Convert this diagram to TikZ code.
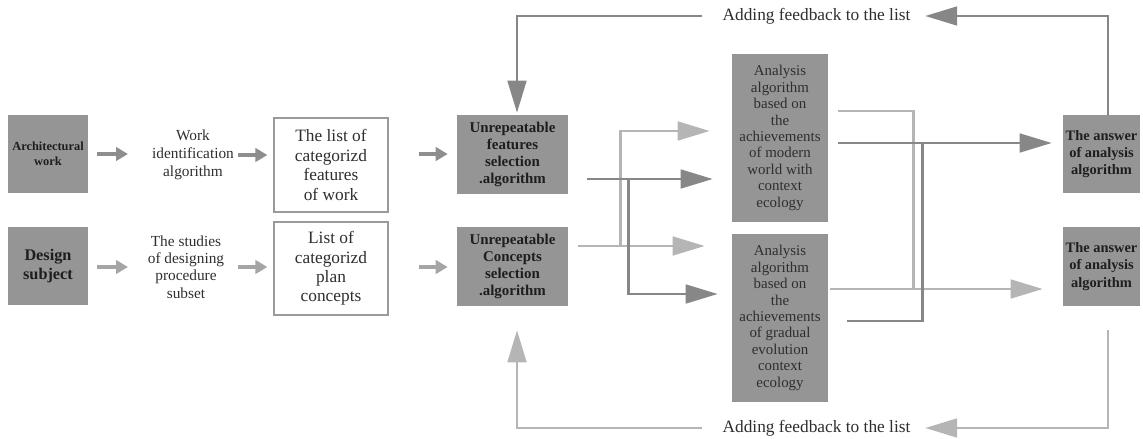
\documentclass[tikz,border=0pt]{standalone}
\usepackage{fontspec}
\setmainfont{Liberation Serif}
\usetikzlibrary{arrows.meta}
\definecolor{boxgray}{HTML}{959595}
\definecolor{darkln}{HTML}{878787}
\definecolor{lightln}{HTML}{B5B5B5}
\definecolor{smalldk}{HTML}{8E8E8E}
\definecolor{smalllt}{HTML}{A5A5A5}
\definecolor{txt}{HTML}{2E2E2E}
\definecolor{boxtxt}{HTML}{1E1E1E}
\definecolor{wborder}{HTML}{9A9A9A}
\begin{document}
\begin{tikzpicture}[x=0.75pt,y=-0.75pt,
  graybox/.style={fill=boxgray, draw=none, inner sep=0pt, align=center, text=boxtxt},
  whitebox/.style={draw=wborder, line width=0.9pt, fill=white, inner sep=0pt, align=center, text=txt, minimum width=85.5pt, font=\fontsize{13}{14.6}\selectfont},
  plaintext/.style={inner sep=0pt, align=center, text=txt},
  bigarrow/.style={line width=2pt, -{Triangle[length=24pt,width=14pt]}},
  conn/.style={line width=2pt},
  smallarrow/.style={line width=3.2pt, -{Triangle[length=9pt,width=10pt]}},
]
\useasboundingbox (0,0) rectangle (1143,439);

% left column
\node[graybox, minimum width=60pt, minimum height=58.5pt, font=\fontsize{9.3}{11.25}\selectfont\bfseries] (arch) at (48,154) {Architectural\\work};
\node[graybox, minimum width=60pt, minimum height=58.5pt, font=\fontsize{12.2}{14.25}\selectfont\bfseries] (design) at (48,266) {Design\\subject};

\node[plaintext, font=\fontsize{11.5}{13.4}\selectfont] (workid) at (193,155) {Work\\identification\\algorithm};
\node[plaintext, font=\fontsize{11.5}{12.9}\selectfont] (studies) at (186,267) {The studies\\of designing\\procedure\\subset};

\node[whitebox, minimum height=70.5pt] (list1) at (331,165) {The list of\\categorizd\\features\\of work};
\node[whitebox, minimum height=69.75pt] (list2) at (331,268.5) {List of\\categorizd\\plan\\concepts};

\node[graybox, minimum width=83.25pt, minimum height=59.25pt, font=\fontsize{11.2}{12.75}\selectfont\bfseries] (uf) at (512.5,154.5) {Unrepeatable\\features\\selection\\.algorithm};
\node[graybox, minimum width=83.25pt, minimum height=59.25pt, font=\fontsize{11.2}{12.75}\selectfont\bfseries] (uc) at (512.5,266.5) {Unrepeatable\\Concepts\\selection\\.algorithm};

\node[graybox, minimum width=72pt, minimum height=126pt, text=txt, font=\fontsize{11.2}{12.3}\selectfont] (an1) at (780,138) {Analysis\\algorithm\\based on\\the\\achievements\\of modern\\world with\\context\\ecology};
\node[graybox, minimum width=72pt, minimum height=126pt, text=txt, font=\fontsize{11.2}{12.3}\selectfont] (an2) at (780,318) {Analysis\\algorithm\\based on\\the\\achievements\\of gradual\\evolution\\context\\ecology};

\node[graybox, minimum width=57.75pt, minimum height=58.5pt, font=\fontsize{10.8}{12.9}\selectfont\bfseries] (ans1) at (1101.5,154) {The answer\\of analysis\\algorithm};
\node[graybox, minimum width=57.75pt, minimum height=59.25pt, font=\fontsize{10.8}{12.9}\selectfont\bfseries] (ans2) at (1101.5,266.5) {The answer\\of analysis\\algorithm};

\node[plaintext, font=\fontsize{13}{15}\selectfont] (fbtop) at (816.5,16) {Adding feedback to the list};
\node[plaintext, font=\fontsize{13}{15}\selectfont] (fbbot) at (816.5,428) {Adding feedback to the list};

% small arrows
\draw[smallarrow, smalldk] ([shift={(9,0)}]arch.east) -- ([shift={(-65,-1)}]workid.center);
\draw[smallarrow, smalldk] ([shift={(45,0)}]workid.center) -- ([shift={(-6,-10)}]list1.west);
\draw[smallarrow, smalldk] ([shift={(30,-11)}]list1.east) -- ([shift={(-9,-0.5)}]uf.west);
\draw[smallarrow, smalllt] ([shift={(9,1)}]design.east) -- ([shift={(-58,0)}]studies.center);
\draw[smallarrow, smalllt] ([shift={(52,0)}]studies.center) -- ([shift={(-6,-1.5)}]list2.west);
\draw[smallarrow, smalllt] ([shift={(30,-1.5)}]list2.east) -- ([shift={(-9,0.5)}]uc.west);

% selection -> analysis
\draw[bigarrow, lightln] ([shift={(52,-20.5)}]uc.east) |- ([shift={(-22,-7)}]an1.west);
\draw[bigarrow, lightln] ([shift={(10,-20.5)}]uc.east) -- ([shift={(-27,-72)}]an2.west);
\draw[bigarrow, darkln] ([shift={(19,24.5)}]uf.east) -- ([shift={(-19,41)}]an1.west);
\draw[bigarrow, darkln] ([shift={(60,24.5)}]uf.east) |- ([shift={(-14,-24)}]an2.west);

% analysis -> answers
\draw[conn, lightln] ([shift={(10,-27)}]an1.east) -| ([shift={(85,-29)}]an2.east);
\draw[bigarrow, lightln] ([shift={(2,-29)}]an2.east) -- ([shift={(-20,22.5)}]ans2.west);
\draw[conn, darkln] ([shift={(19,3)}]an2.east) -| ([shift={(94,5)}]an1.east);
\draw[bigarrow, darkln] ([shift={(10,5)}]an1.east) -- ([shift={(-11,-11)}]ans1.west);

% feedback loops
\draw[bigarrow, darkln] ([shift={(6.5,0)}]ans1.north) |- ([shift={(14.5,0)}]fbtop.east);
\draw[bigarrow, darkln] ([shift={(-20,0)}]fbtop.west) -| ([shift={(4.5,-2)}]uf.north);
\draw[bigarrow, lightln] ([shift={(6.5,24)}]ans2.south) |- ([shift={(14.5,0)}]fbbot.east);
\draw[bigarrow, lightln] ([shift={(-20,0)}]fbbot.west) -| ([shift={(4.5,24)}]uc.south);
\end{tikzpicture}
\end{document}
